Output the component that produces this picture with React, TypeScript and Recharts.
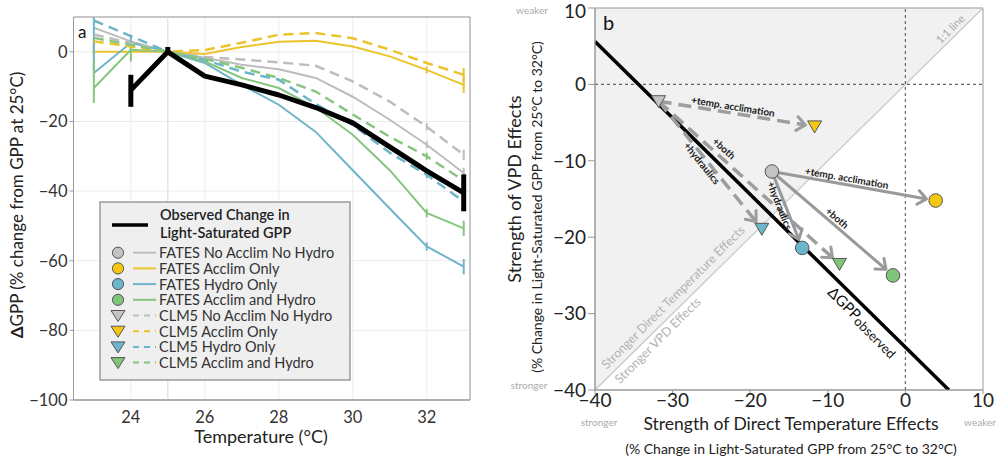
import React from 'react';
import {
  LineChart, Line, XAxis, YAxis, CartesianGrid, ReferenceLine, ReferenceArea, ErrorBar,
  ComposedChart, Area, Scatter,
} from 'recharts';

const FONT = 'Lato, "Noto Sans", sans-serif';

// ---------------- Panel a data ----------------
const temperatures = [23, 24, 25, 26, 27, 28, 29, 30, 31, 32, 33];
const xTicksA = [24, 26, 28, 30, 32];
const yTicksA = [-100, -80, -60, -40, -20, 0];

const observedGPP = [null, -11, 0, -7, -9.5, -12.4, -16, -20.4, -27.3, -34.2, -40.5];
const observedErr = [0, [4.8, 4.4], [0, 1.4], 0, 0, 0, 0, 0, 0, 0, [5.3, 5.3]];

const fatesNoAcclimNoHydro = [6.9, 3, 0, -1.7, -3.7, -5, -7.5, -12.9, -19.5, -26.7, -34.8];
const fatesAcclimOnly = [0, 0, 0, -0.6, 1.4, 2.9, 3.2, 1.5, -1.3, -5.2, -9.5];
const fatesHydroOnly = [-6.1, 2.6, 0, -3.2, -9.5, -15.2, -23, -34, -45, -55.9, -61.7];
const fatesAcclimHydro = [-10.4, 0.6, 0, -2.8, -7.5, -10.4, -16, -23.8, -34, -46.3, -50.7];
const clm5NoAcclimNoHydro = [5, 2.5, 0, -1.5, -2.2, -3, -4, -8.5, -14.3, -21.5, -29.6];
const clm5AcclimOnly = [3, 1.5, 0, 0.5, 2.6, 4.9, 5.4, 3.9, 0.6, -3.2, -6.6];
const clm5HydroOnly = [9, 4.5, 0, -2.3, -5.7, -8, -15, -21, -29, -35.3, -43];
const clm5AcclimHydro = [4, 2, 0, -2, -4.6, -7.5, -11.4, -18, -24.4, -30, -37];

const fatesNoAcclimNoHydroErr = [0, 0, 0, 0, 0, 0, 0, 0, 0, 1, 1.5];
const fatesAcclimOnlyErr = [[0.9, 4], 0, 0, 0, 0, 0, 0, 0, 0, 1, 2.3];
const fatesHydroOnlyErr = [[0, 16], [2, 2.3], 0, 0, 0, 0, 0, 0, 0, 1.2, 2.2];
const fatesAcclimHydroErr = [[4.3, 8.1], [3.4, 2], 0, 0, 0, 0, 0, 0, 0, 1.2, 2.2];
const clm5NoAcclimNoHydroErr = [0, 0, 0, 0, 0, 0, 0, 0, 0, 1, 1.5];
const clm5AcclimOnlyErr = [0, 0, 0, 0, 0, 0, 0, 0, 0, 0, 2];
const clm5HydroOnlyErr = [0, 0, 0, 0, 0, 0, 0, 0, 0, 1, 2];
const clm5AcclimHydroErr = [0, 0, 0, 0, 0, 0, 0, 0, 0, 1, 2];

const GRAY = '#bdbdbd';
const YELLOW = '#ebc42c';
const BLUE = '#6fb5ca';
const GREEN = '#86c580';
const GRAY_M = '#c3c3c3';
const YELLOW_M = '#f4c713';
const BLUE_M = '#6cb6cc';
const GREEN_M = '#80c47a';

const seriesA = [
  { key: 'fNN', name: 'FATES No Acclim No Hydro', values: fatesNoAcclimNoHydro, err: fatesNoAcclimNoHydroErr, color: GRAY, marker: GRAY_M, dashed: false },
  { key: 'fA', name: 'FATES Acclim Only', values: fatesAcclimOnly, err: fatesAcclimOnlyErr, color: YELLOW, marker: YELLOW_M, dashed: false },
  { key: 'fH', name: 'FATES Hydro Only', values: fatesHydroOnly, err: fatesHydroOnlyErr, color: BLUE, marker: BLUE_M, dashed: false },
  { key: 'fAH', name: 'FATES Acclim and Hydro', values: fatesAcclimHydro, err: fatesAcclimHydroErr, color: GREEN, marker: GREEN_M, dashed: false },
  { key: 'cNN', name: 'CLM5 No Acclim No Hydro', values: clm5NoAcclimNoHydro, err: clm5NoAcclimNoHydroErr, color: GRAY, marker: GRAY_M, dashed: true },
  { key: 'cA', name: 'CLM5 Acclim Only', values: clm5AcclimOnly, err: clm5AcclimOnlyErr, color: YELLOW, marker: YELLOW_M, dashed: true },
  { key: 'cH', name: 'CLM5 Hydro Only', values: clm5HydroOnly, err: clm5HydroOnlyErr, color: BLUE, marker: BLUE_M, dashed: true },
  { key: 'cAH', name: 'CLM5 Acclim and Hydro', values: clm5AcclimHydro, err: clm5AcclimHydroErr, color: GREEN, marker: GREEN_M, dashed: true },
];

const tableA = temperatures.map((t, i) => {
  const row: any = { t, obs: observedGPP[i], obsErr: observedErr[i] };
  seriesA.forEach((s) => {
    row[s.key] = s.values[i];
    row[s.key + 'Err'] = s.err[i];
  });
  return row;
});

// ---------------- Panel b data ----------------
const xTicksB = [-40, -30, -20, -10, 0, 10];
const yTicksB = [-40, -30, -20, -10, 0, 10];
const domainB = [-40, 10];
const scenarioColors = [GRAY_M, YELLOW_M, BLUE_M, GREEN_M];
const fatesDirect = [-17.2, 3.9, -13.3, -1.6];
const fatesVPD = [-11.4, -15.2, -21.4, -25.0];
const clm5Direct = [-31.8, -11.7, -18.5, -8.5];
const clm5VPD = [-2.2, -5.5, -18.9, -23.5];
const observedTotal = -34.4;
const arrowLabels = ['+temp. acclimation', '+hydraulics', '+both'];

// label placement (style): fraction along arrow and perpendicular pixel offset
const fatesLabelPlace = [{ frac: 0.45, off: -7 }, { frac: 0.42, off: 5 }, { frac: 0.5, off: -7.5 }];
const clm5LabelPlace = [{ frac: 0.47, off: -7 }, { frac: 0.46, off: 5 }, { frac: 0.33, off: -9 }];

const shadeData = [
  { x: domainB[0], band: [domainB[0], domainB[1]] },
  { x: domainB[1], band: [domainB[1], domainB[1]] },
];
const diagLine = [{ x: domainB[0], y: domainB[0] }, { x: domainB[1], y: domainB[1] }];
const zeroV = [{ x: 0, y: domainB[0] }, { x: 0, y: domainB[1] }];
const zeroH = [{ x: domainB[0], y: 0 }, { x: domainB[1], y: 0 }];
const obsLine = [
  { x: domainB[0], y: observedTotal - domainB[0] },
  { x: observedTotal - domainB[0], y: domainB[0] },
];

function arrowPoints(fx: number, fy: number, tx: number, ty: number, frac: number, off: number, label: string) {
  const dx = tx - fx;
  const dy = ty - fy;
  const len = Math.hypot(dx, dy);
  const gap = 1.2;
  const k = (len - gap) / len;
  return [
    { x: fx, y: fy, role: 'start', dx, dy },
    { x: fx + dx * frac, y: fy + dy * frac, role: 'label', label, off, dx, dy },
    { x: fx + dx * k, y: fy + dy * k, role: 'tip', dx, dy },
  ];
}

const fatesArrows = [1, 2, 3].map((j, i) =>
  arrowPoints(fatesDirect[0], fatesVPD[0], fatesDirect[j], fatesVPD[j], fatesLabelPlace[i].frac, fatesLabelPlace[i].off, arrowLabels[i]));
const clm5Arrows = [1, 2, 3].map((j, i) =>
  arrowPoints(clm5Direct[0], clm5VPD[0], clm5Direct[j], clm5VPD[j], clm5LabelPlace[i].frac, clm5LabelPlace[i].off, arrowLabels[i]));

const fatesPoints = fatesDirect.map((x, i) => ({ x, y: fatesVPD[i], color: scenarioColors[i] }));
const clm5Points = clm5Direct.map((x, i) => ({ x, y: clm5VPD[i], color: scenarioColors[i] }));

const annotations = [
  { x: 6.5, y: 6.5, text: '1:1 line', angle: -45, off: -8.5, size: 11, color: '#aaaaaa' },
  { x: -28.9, y: -28.9, text: 'Stronger Direct Temperature Effects', angle: -45, off: -11.5, size: 12.5, color: '#b3b3b3' },
  { x: -32.7, y: -32.7, text: 'Stronger VPD Effects', angle: -45, off: 8.5, size: 12.5, color: '#b3b3b3' },
];
const obsAnnot = [{ x: -4.4, y: observedTotal + 4.4, text: 'ΔGPP', sub: 'observed', angle: 45, off: 11 }];

const minus = (v: number) => (v < 0 ? `\u2212${Math.abs(v)}` : `${v}`);

const makeArrowDot = (color: string) => (props: any) => {
  const { cx, cy, payload, index, points } = props;
  if (cx == null || cy == null || !payload) return <g key={`ad-${index}`} />;
  let ang = Math.atan2(-payload.dy, payload.dx);
  if (points && index > 0 && points[index - 1]) {
    const p0 = points[0];
    if (p0 && (cx !== p0.x || cy !== p0.y)) ang = Math.atan2(cy - p0.y, cx - p0.x);
  }
  if (payload.role === 'tip') {
    const a = 0.68;
    const L = 11;
    const back = ang + Math.PI;
    const p1 = `${cx + L * Math.cos(back - a)},${cy + L * Math.sin(back - a)}`;
    const p2 = `${cx + L * Math.cos(back + a)},${cy + L * Math.sin(back + a)}`;
    return (
      <polyline key={`ad-${index}`} points={`${p1} ${cx},${cy} ${p2}`} fill="none" stroke={color}
        strokeWidth={3} strokeLinecap="round" strokeLinejoin="round" />
    );
  }
  if (payload.role === 'label') {
    const deg = (ang * 180) / Math.PI;
    return (
      <text key={`ad-${index}`} transform={`translate(${cx},${cy}) rotate(${deg})`} y={payload.off}
        textAnchor="middle" dominantBaseline="central" fontSize={10} fontWeight={700} fill="#1a1a1a"
        fontFamily={FONT}>
        {payload.label}
      </text>
    );
  }
  return <g key={`ad-${index}`} />;
};

const circleShape = (p: any) => (
  <circle cx={p.cx} cy={p.cy} r={6.8} fill={p.payload.color} stroke="#555" strokeWidth={1} />
);
const triShape = (p: any) => (
  <polygon
    points={`${p.cx - 7},${p.cy - 5.5} ${p.cx + 7},${p.cy - 5.5} ${p.cx},${p.cy + 6.5}`}
    fill={p.payload.color} stroke="#555" strokeWidth={1} strokeLinejoin="round" />
);
const annotShape = (p: any) => (
  <text transform={`translate(${p.cx},${p.cy}) rotate(${p.payload.angle})`} y={p.payload.off}
    textAnchor="middle" dominantBaseline="central" fontSize={p.payload.size} fill={p.payload.color}
    fontFamily={FONT}>
    {p.payload.text}
  </text>
);
const obsAnnotShape = (p: any) => (
  <text transform={`translate(${p.cx},${p.cy}) rotate(${p.payload.angle})`} y={p.payload.off}
    textAnchor="middle" dominantBaseline="central" fill="#111" fontFamily={FONT}>
    <tspan fontSize={15}>{p.payload.text}</tspan>
    <tspan fontSize={13} dy={3}>{p.payload.sub}</tspan>
  </text>
);

const LegendBox = () => {
  const rowY = (i: number) => 50.7 + i * 15.7;
  return (
    <g transform="translate(100,202)">
      <rect x={0} y={0} width={250} height={178} fill="#efefef" stroke="#9a9a9a" strokeWidth={1.5} />
      <line x1={12} x2={48} y1={23} y2={23} stroke="#000" strokeWidth={3.5} />
      <text x={60} y={18} fontSize={14.5} fontWeight={600} fill="#222" fontFamily={FONT}>Observed Change in</text>
      <text x={60} y={36} fontSize={14.5} fontWeight={600} fill="#222" fontFamily={FONT}>Light-Saturated GPP</text>
      {seriesA.map((s, i) => {
        const y = rowY(i);
        return (
          <g key={s.key}>
            {s.dashed ? (
              <polygon points={`${11},${y - 5} ${25},${y - 5} ${18},${y + 6}`} fill={s.marker} stroke="#555" strokeWidth={1} />
            ) : (
              <circle cx={18} cy={y} r={5.6} fill={s.marker} stroke="#555" strokeWidth={1} />
            )}
            <line x1={33} x2={56} y1={y} y2={y} stroke={s.color} strokeWidth={2}
              strokeDasharray={s.dashed ? '6 5' : undefined} />
            <text x={59} y={y} dominantBaseline="central" fontSize={14.5} fill="#333" fontFamily={FONT}>{s.name}</text>
          </g>
        );
      })}
    </g>
  );
};

export default function App() {
  const tickA = { fontSize: 16.5, fill: '#333', fontFamily: FONT };
  const tickB = { fontSize: 19, fill: '#222', fontFamily: FONT };
  return (
    <div style={{ position: 'absolute', left: 0, top: 0, width: 1000, height: 458, background: '#fff', overflow: 'hidden' }}>
      <div style={{ position: 'absolute', left: 0, top: 0 }}>
        <LineChart width={480} height={458} data={tableA} margin={{ top: 17, right: 10, bottom: 0, left: 0 }}>
          <CartesianGrid stroke="#ececec" />
          <ReferenceLine x={25} stroke="#dedede" strokeWidth={1.2} />
          <XAxis dataKey="t" type="number" domain={[22.45, 33.17]} ticks={xTicksA} allowDataOverflow
            height={58} tickLine={false} axisLine={{ stroke: '#999' }} tick={tickA} tickMargin={5} />
          <YAxis type="number" domain={[-100, 10]} ticks={yTicksA} allowDataOverflow width={73.5}
            tickSize={4} tickLine={{ stroke: '#999' }} axisLine={{ stroke: '#999' }} tick={tickA}
            tickMargin={2} tickFormatter={minus} />
          <ReferenceArea x1={22.45} x2={33.17} y1={-100} y2={10} fill="none" fillOpacity={0} stroke="#999" strokeWidth={1} />
          {seriesA.map((s) => (
            <Line key={s.key} dataKey={s.key} stroke={s.color} strokeWidth={s.dashed ? 2.5 : 2}
              strokeDasharray={s.dashed ? '10 6' : undefined} dot={false} isAnimationActive={false}>
              <ErrorBar dataKey={s.key + 'Err'} width={0} stroke={s.color} strokeWidth={2} direction="y" />
            </Line>
          ))}
          <Line dataKey="obs" stroke="#000" strokeWidth={5} dot={false} isAnimationActive={false} strokeLinejoin="round">
            <ErrorBar dataKey="obsErr" width={0} stroke="#000" strokeWidth={5} direction="y" />
          </Line>
        </LineChart>
      </div>
      <div style={{ position: 'absolute', left: 480, top: 0 }}>
        <ComposedChart width={520} height={458} data={shadeData} margin={{ top: 8, right: 17, bottom: 0, left: 0 }}>
          <XAxis dataKey="x" type="number" domain={domainB} ticks={xTicksB} allowDataOverflow height={68}
            tickSize={4} tickMargin={0} tickLine={{ stroke: '#999' }} axisLine={{ stroke: '#999' }} tick={tickB}
            tickFormatter={minus} />
          <YAxis dataKey="y" type="number" domain={domainB} ticks={yTicksB} allowDataOverflow width={115}
            tickSize={7} tickMargin={2} tickLine={{ stroke: '#999' }} axisLine={{ stroke: '#999' }} tick={tickB}
            tickFormatter={minus} />
          <Area dataKey="band" type="linear" fill="#f1f1f1" fillOpacity={1} stroke="none" isAnimationActive={false} />
          <Line data={diagLine} dataKey="y" stroke="#c9c9c9" strokeWidth={1.3} dot={false} isAnimationActive={false} />
          <Line data={zeroV} dataKey="y" stroke="#666" strokeWidth={1.2} strokeDasharray="3 3" dot={false} isAnimationActive={false} />
          <Line data={zeroH} dataKey="y" stroke="#666" strokeWidth={1.2} strokeDasharray="3 3" dot={false} isAnimationActive={false} />
          <ReferenceArea x1={domainB[0]} x2={domainB[1]} y1={domainB[0]} y2={domainB[1]} fill="none" fillOpacity={0} stroke="#999" />
          <Line data={obsLine} dataKey="y" stroke="#000" strokeWidth={3.5} dot={false} isAnimationActive={false} />
          <Scatter data={annotations} shape={annotShape} isAnimationActive={false} />
          <Scatter data={obsAnnot} shape={obsAnnotShape} isAnimationActive={false} />
          {clm5Arrows.map((d, i) => (
            <Line key={`ca${i}`} data={d} dataKey="y" stroke="#9d9d9d" strokeWidth={3.5} strokeDasharray="13 7"
              dot={makeArrowDot('#9d9d9d')} activeDot={false} isAnimationActive={false} />
          ))}
          {fatesArrows.map((d, i) => (
            <Line key={`fa${i}`} data={d} dataKey="y" stroke="#999" strokeWidth={3}
              dot={makeArrowDot('#999')} activeDot={false} isAnimationActive={false} />
          ))}
          <Scatter data={clm5Points} shape={triShape} isAnimationActive={false} />
          <Scatter data={fatesPoints} shape={circleShape} isAnimationActive={false} />
        </ComposedChart>
      </div>
      <svg style={{ position: 'absolute', left: 0, top: 0, pointerEvents: 'none' }} width={1000} height={458}>
        <LegendBox />
        <text x={78} y={38} fontSize={17} fill="#111" fontFamily={FONT}>a</text>
        <text x={603} y={30} fontSize={20} fill="#111" fontFamily={FONT}>b</text>
        <text transform="translate(23,205) rotate(-90)" textAnchor="middle" fontSize={17} fill="#222" fontFamily={FONT}>
          <tspan fontWeight={700}>Δ</tspan>GPP (% change from GPP at 25°C)
        </text>
        <text x={261} y={443} textAnchor="middle" fontSize={18} fill="#222" fontFamily={FONT}>Temperature (°C)</text>
        <text transform="translate(521,189) rotate(-90)" textAnchor="middle" fontSize={18} fill="#222" fontFamily={FONT}>Strength of VPD Effects</text>
        <text transform="translate(542,207) rotate(-90)" textAnchor="middle" fontSize={14} fill="#222" fontFamily={FONT}>(% Change in Light-Saturated GPP from 25°C to 32°C)</text>
        <text x={791} y={430} textAnchor="middle" fontSize={17.5} fill="#222" fontFamily={FONT}>Strength of Direct Temperature Effects</text>
        <text x={791} y={454} textAnchor="middle" fontSize={14} fill="#222" fontFamily={FONT}>(% Change in Light-Saturated GPP from 25°C to 32°C)</text>
        <text x={532} y={14} textAnchor="middle" fontSize={10} fill="#aaa" fontFamily={FONT}>weaker</text>
        <text x={529} y={389} textAnchor="middle" fontSize={10} fill="#aaa" fontFamily={FONT}>stronger</text>
        <text x={599} y={426} textAnchor="middle" fontSize={10} fill="#aaa" fontFamily={FONT}>stronger</text>
        <text x={980} y={426} textAnchor="middle" fontSize={10} fill="#aaa" fontFamily={FONT}>weaker</text>
      </svg>
    </div>
  );
}
